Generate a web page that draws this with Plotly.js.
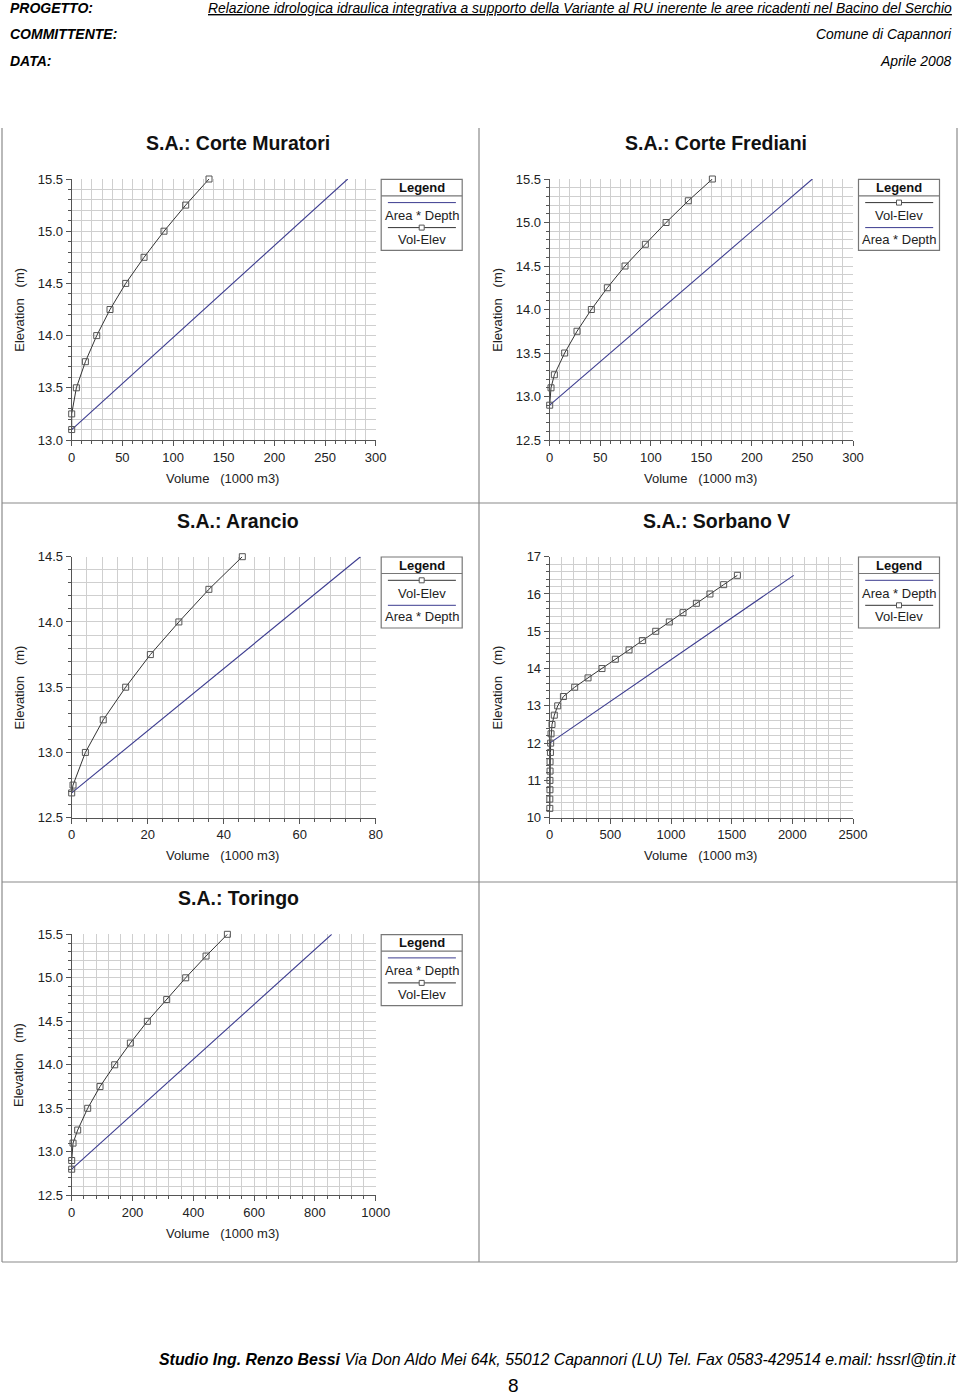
<!DOCTYPE html>
<html>
<head>
<meta charset="utf-8">
<script src="https://cdn.plot.ly/plotly-3.0.1.min.js"></script>
<style>
html,body{margin:0;padding:0;background:#fff;}
#chart{width:960px;height:1398px;}
</style>
</head>
<body>
<div id="chart"></div>
<script>
// ---------------- DATA ----------------
const chartTitles = ["S.A.: Corte Muratori", "S.A.: Corte Frediani", "S.A.: Arancio", "S.A.: Sorbano V", "S.A.: Toringo"];

// Corte Muratori
const cmVol  = [0, 0, 4.6, 13.5, 24.7, 37.8, 53.3, 71.4, 91.1, 112.5, 135.5];
const cmElev = [13.1, 13.25, 13.5, 13.75, 14.0, 14.25, 14.5, 14.75, 15.0, 15.25, 15.5];
const cmAdVol  = [0, 272.4];
const cmAdElev = [13.1, 15.5];

// Corte Frediani
const cfVol  = [0, 1.3, 4.6, 14.8, 27.0, 41.2, 57.0, 74.5, 94.6, 115.1, 137.1, 160.9];
const cfElev = [12.9, 13.1, 13.25, 13.5, 13.75, 14.0, 14.25, 14.5, 14.75, 15.0, 15.25, 15.5];
const cfAdVol  = [0, 259.8];
const cfAdElev = [12.9, 15.5];

// Arancio
const arVol  = [0, 0.35, 3.6, 8.3, 14.2, 20.7, 28.2, 36.1, 44.9];
const arElev = [12.69, 12.75, 13.0, 13.25, 13.5, 13.75, 14.0, 14.25, 14.5];
const arAdVol  = [0, 76.0];
const arAdElev = [12.69, 14.5];

// Sorbano V
const svVol  = [1, 1, 2, 2, 3, 3, 6, 8, 11, 19, 38, 66, 113, 206, 316, 431, 541, 654, 764, 874, 986, 1099, 1209, 1321, 1434, 1547];
const svElev = [10.25, 10.5, 10.75, 11.0, 11.25, 11.5, 11.75, 12.0, 12.25, 12.5, 12.75, 13.0, 13.25, 13.5, 13.75, 14.0, 14.25, 14.5, 14.75, 15.0, 15.25, 15.5, 15.75, 16.0, 16.25, 16.5];
const svAdVol  = [0, 2011];
const svAdElev = [12.0, 16.5];

// Toringo
const toVol  = [0, 0, 4.4, 19.7, 52.6, 93.2, 141.4, 193, 248.9, 312.5, 375, 441.9, 512.1];
const toElev = [12.8, 12.9, 13.1, 13.25, 13.5, 13.75, 14.0, 14.25, 14.5, 14.75, 15.0, 15.25, 15.5];
const toAdVol  = [0, 855.3];
const toAdElev = [12.8, 15.5];

const seriesVE = "Vol-Elev";
const seriesAD = "Area * Depth";
const xTitle = "Volume\u00a0\u00a0\u00a0(1000 m3)";
const yTitle = "Elevation\u00a0\u00a0\u00a0(m)";

// axis settings per chart
const xRanges = [[0,300],[0,300],[0,80],[0,2500],[0,1000]];
const xDticks = [50,50,20,500,200];
const xMinor  = [10,10,4,100,40];
const yRanges = [[13,15.5],[12.5,15.5],[12.5,14.5],[10,17],[12.5,15.5]];
const yDticks = [0.5,0.5,0.5,1,0.5];
const yMinor  = [0.1,0.1,0.1,0.2,0.1];
const yFormats = [".1f",".1f",".1f","d",".1f"];
const legendOrders = [[seriesAD, seriesVE],[seriesVE, seriesAD],[seriesVE, seriesAD],[seriesAD, seriesVE],[seriesAD, seriesVE]];

const veData = [[cmVol,cmElev],[cfVol,cfElev],[arVol,arElev],[svVol,svElev],[toVol,toElev]];
const adData = [[cmAdVol,cmAdElev],[cfAdVol,cfAdElev],[arAdVol,arAdElev],[svAdVol,svAdElev],[toAdVol,toAdElev]];

// ---------------- LAYOUT GEOMETRY (pixels) ----------------
const W = 960, H = 1398;
const X = p => p / W;
const Y = p => 1 - p / H;
const plotBoxes = [
  {l:71.7, r:375.7, t:179,   b:440},
  {l:549.7,r:853,   t:179,   b:440},
  {l:71.7, r:375.7, t:556.7, b:817.7},
  {l:549.7,r:853,   t:556.7, b:817.7},
  {l:71.7, r:375.7, t:934.3, b:1195.3}
];

const FONT = "Liberation Sans, Arial, Helvetica, sans-serif";
const lineAD = "#3b3b8f";
const lineVE = "#333333";
const markerCol = "#555555";

const traces = [];
const layout = {
  width: W, height: H,
  margin: {l:0, r:0, t:0, b:0},
  paper_bgcolor: "#ffffff",
  plot_bgcolor: "#ffffff",
  showlegend: false,
  font: {family: FONT, size: 13, color: "#222"},
  shapes: [],
  annotations: []
};

plotBoxes.forEach((b, i) => {
  const n = i + 1;
  const xa = n === 1 ? "x" : "x" + n;
  const ya = n === 1 ? "y" : "y" + n;
  const xk = n === 1 ? "xaxis" : "xaxis" + n;
  const yk = n === 1 ? "yaxis" : "yaxis" + n;

  traces.push({
    type: "scatter", mode: "lines", name: seriesAD,
    x: adData[i][0], y: adData[i][1], xaxis: xa, yaxis: ya,
    line: {color: lineAD, width: 1.1}, cliponaxis: false, hoverinfo: "skip"
  });
  traces.push({
    type: "scatter", mode: "lines+markers", name: seriesVE,
    x: veData[i][0], y: veData[i][1], xaxis: xa, yaxis: ya,
    line: {color: lineVE, width: 1},
    marker: {symbol: "square-open", size: 6, color: markerCol, line: {width: 1, color: markerCol}},
    cliponaxis: false, hoverinfo: "skip"
  });

  layout[xk] = {
    domain: [X(b.l), X(b.r)], anchor: ya, range: xRanges[i],
    tick0: 0, dtick: xDticks[i], ticks: "outside", ticklen: 5, tickcolor: "#555",
    showline: true, linecolor: "#555", linewidth: 1, zeroline: false,
    showgrid: true, gridcolor: "#cfcfcf", gridwidth: 1,
    minor: {dtick: xMinor[i], showgrid: true, gridcolor: "#cfcfcf", gridwidth: 1, ticks: "outside", ticklen: 3, tickcolor: "#555"},
    tickfont: {family: FONT, size: 13, color: "#222"}, fixedrange: true
  };
  layout[yk] = {
    domain: [Y(b.b), Y(b.t)], anchor: xa, range: yRanges[i],
    tick0: 0, dtick: yDticks[i], tickformat: yFormats[i], ticks: "outside", ticklen: 5, tickcolor: "#555",
    showline: true, linecolor: "#555", linewidth: 1, zeroline: false,
    showgrid: true, gridcolor: "#cfcfcf", gridwidth: 1,
    minor: {dtick: yMinor[i], showgrid: true, gridcolor: "#cfcfcf", gridwidth: 1, ticks: "outside", ticklen: 3, tickcolor: "#555"},
    tickfont: {family: FONT, size: 13, color: "#222"}, fixedrange: true
  };

  // chart title
  const titleX = i % 2 === 0 ? 238 : 716;
  layout.annotations.push({
    xref: "paper", yref: "paper", x: X(titleX), y: Y(b.t - 36), xanchor: "center", yanchor: "middle",
    text: "<b>" + chartTitles[i] + "</b>", showarrow: false,
    font: {family: FONT, size: 19.5, color: "#111"}
  });
  // axis titles
  layout.annotations.push({
    xref: "paper", yref: "paper", x: X(b.l + 151), y: Y(b.b + 38), xanchor: "center", yanchor: "middle",
    text: xTitle, showarrow: false, font: {family: FONT, size: 13, color: "#222"}
  });
  layout.annotations.push({
    xref: "paper", yref: "paper", x: X(b.l - 52.5), y: Y((b.t + b.b) / 2), xanchor: "center", yanchor: "middle",
    text: yTitle, textangle: -90, showarrow: false, font: {family: FONT, size: 13, color: "#222"}
  });

  // custom legend box
  const lg = {l: b.r + 5.5, r: b.r + 86.5, t: b.t + 0.3};
  lg.b = lg.t + 71; lg.sep = lg.t + 16.5;
  const mid = (lg.l + lg.r) / 2;
  layout.shapes.push({type: "rect", xref: "paper", yref: "paper", x0: X(lg.l), x1: X(lg.r), y0: Y(lg.b), y1: Y(lg.t), line: {color: "#777", width: 1.2}, fillcolor: "rgba(0,0,0,0)"});
  layout.shapes.push({type: "line", xref: "paper", yref: "paper", x0: X(lg.l), x1: X(lg.r), y0: Y(lg.sep), y1: Y(lg.sep), line: {color: "#777", width: 1.2}});
  layout.annotations.push({
    xref: "paper", yref: "paper", x: X(mid), y: Y(lg.t + 8.3), xanchor: "center", yanchor: "middle",
    text: "<b>Legend</b>", showarrow: false, font: {family: FONT, size: 13, color: "#111"}
  });
  legendOrders[i].forEach((name, k) => {
    const ly = lg.t + 23.3 + k * 25;
    const ty = lg.t + 36.3 + k * 23.6;
    const isVE = name === seriesVE;
    layout.shapes.push({type: "line", xref: "paper", yref: "paper", x0: X(lg.l + 6.7), x1: X(lg.r - 6.3), y0: Y(ly), y1: Y(ly), line: {color: isVE ? lineVE : lineAD, width: 1}});
    if (isVE) {
      layout.shapes.push({type: "rect", xref: "paper", yref: "paper", x0: X(mid - 2.5), x1: X(mid + 2.5), y0: Y(ly + 2.5), y1: Y(ly - 2.5), line: {color: markerCol, width: 1}, fillcolor: "#fff"});
    }
    layout.annotations.push({
      xref: "paper", yref: "paper", x: X(mid), y: Y(ty), xanchor: "center", yanchor: "middle",
      text: name, showarrow: false, font: {family: FONT, size: 13, color: "#222"}
    });
  });
});

// page frame
const frameCol = "#8a8a8a";
[[2,128,2,1262],[479,128,479,1262],[957,128,957,1262],[2,503,957,503],[2,882,957,882],[2,1262,957,1262]].forEach(s => {
  layout.shapes.push({type: "line", xref: "paper", yref: "paper", x0: X(s[0]), y0: Y(s[1]), x1: X(s[2]), y1: Y(s[3]), line: {color: frameCol, width: 1.2}});
});

// header
const hdr = [
  ["PROGETTO:", "<u>Relazione idrologica idraulica integrativa a supporto della Variante al RU inerente le aree ricadenti nel Bacino del Serchio</u>", 8],
  ["COMMITTENTE:", "Comune di Capannori", 34],
  ["DATA:", "Aprile 2008", 61]
];
hdr.forEach(h => {
  layout.annotations.push({xref: "paper", yref: "paper", x: X(8), y: Y(h[2]), xanchor: "left", yanchor: "middle",
    text: "<b><i>" + h[0] + "</i></b>", showarrow: false, font: {family: FONT, size: 14, color: "#000"}});
  layout.annotations.push({xref: "paper", yref: "paper", x: X(954), y: Y(h[2]), xanchor: "right", yanchor: "middle",
    text: "<i>" + h[1] + "</i>", showarrow: false, font: {family: FONT, size: 13.9, color: "#000"}});
});

// footer
layout.annotations.push({xref: "paper", yref: "paper", x: X(958), y: Y(1359), xanchor: "right", yanchor: "middle",
  text: "<b><i>Studio Ing. Renzo Bessi</i></b><i> Via Don Aldo Mei 64k, 55012 Capannori (LU) Tel. Fax 0583-429514 e.mail: hssrl@tin.it</i>",
  showarrow: false, font: {family: FONT, size: 15.9, color: "#000"}});
layout.annotations.push({xref: "paper", yref: "paper", x: X(513), y: Y(1385), xanchor: "center", yanchor: "middle",
  text: "8", showarrow: false, font: {family: FONT, size: 19, color: "#000"}});

Plotly.newPlot("chart", traces, layout, {displayModeBar: false, staticPlot: true});
</script>
</body>
</html>
